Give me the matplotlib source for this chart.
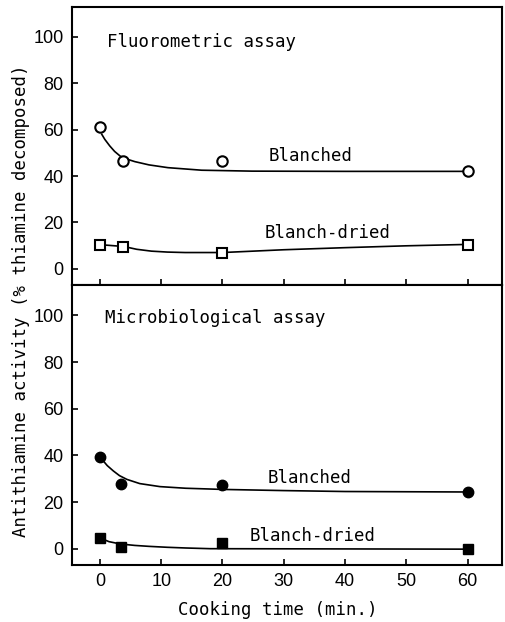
import matplotlib
matplotlib.use("Agg")
import matplotlib.pyplot as plt

plt.rcParams['font.family'] = ['Liberation Sans', 'DejaVu Sans']

# measured points
time_fl = [0, 3.8, 20, 60]
fl_blanched = [61, 46.5, 46.5, 42]
fl_dried = [10.4, 9.6, 6.7, 10.4]

time_mb = [0, 3.4, 20, 60]
mb_blanched = [39.5, 27.9, 27.3, 24.3]
mb_dried = [4.6, 0.7, 2.5, 0]

# hand-drawn fitted curves
fl_blanched_curve_x = [0.3, 0.8, 1.6, 2.4, 3.3, 4.5, 5.7, 8, 11.1, 16.6, 24.8, 40, 60]
fl_blanched_curve_y = [58, 55.8, 53, 50.6, 48.6, 47.2, 46.2, 44.8, 43.6, 42.5, 42.1, 42, 42]
fl_dried_curve_x = [0, 3.9, 6, 8.4, 11, 13.9, 20, 30, 40, 50, 60]
fl_dried_curve_y = [10.4, 9.6, 8.4, 7.6, 7.2, 7.0, 7.0, 8.2, 9.1, 9.9, 10.5]

mb_blanched_curve_x = [0.3, 1.2, 2.2, 3.2, 4.4, 6.5, 9.8, 14, 20, 30, 40, 60]
mb_blanched_curve_y = [38.4, 35.6, 33.3, 31.3, 29.7, 27.9, 26.6, 25.9, 25.4, 24.9, 24.5, 24.3]
mb_dried_curve_x = [0, 1.5, 3.4, 5.7, 8, 11, 14, 18, 40, 60]
mb_dried_curve_y = [4.6, 3.0, 2.0, 1.4, 1.0, 0.6, 0.3, 0.0, -0.1, -0.2]

xticks = [0, 10, 20, 30, 40, 50, 60]
yticks = [0, 20, 40, 60, 80, 100]

fig = plt.figure(figsize=(5.05, 6.22), dpi=100)
ax1 = fig.add_axes([0.142, 0.5418, 0.852, 0.4474])
ax2 = fig.add_axes([0.142, 0.0916, 0.852, 0.4502])

fs = 13
tfs = 12.5
mono = 'DejaVu Sans Mono'
for ax in (ax1, ax2):
    ax.set_xlim(-4.6, 65.6)
    ax.set_ylim(-7, 113)
    ax.set_xticks(xticks)
    ax.set_yticks(yticks)
    ax.tick_params(direction='in', length=4, width=1.2, labelsize=fs,
                   colors='black', pad=6)
    for s in ax.spines.values():
        s.set_linewidth(1.5)

ax1.tick_params(labelbottom=False)
fig.text(0.55, 0.0193, 'Cooking time (min.)', ha='center', va='center',
         fontsize=tfs, family=mono)
fig.text(0.042, 0.516, 'Antithiamine activity (% thiamine decomposed)',
         rotation=90, ha='center', va='center', fontsize=tfs, family=mono)

lw = 1.2
ms = 7.5
# top panel
ax1.plot(fl_blanched_curve_x, fl_blanched_curve_y, color='black', lw=lw)
ax1.plot(fl_dried_curve_x, fl_dried_curve_y, color='black', lw=lw)
ax1.plot(time_fl, fl_blanched, 'o', ms=ms, mfc='white', mec='black',
         mew=1.5, zorder=3)
ax1.plot(time_fl, fl_dried, 's', ms=ms, mfc='white', mec='black',
         mew=1.5, zorder=3)
ax1.text(1.1, 98, 'Fluorometric assay', fontsize=tfs, family=mono,
         va='center')
ax1.text(27.6, 48.5, 'Blanched', fontsize=tfs, family=mono, va='center')
ax1.text(26.9, 15.4, 'Blanch-dried', fontsize=tfs, family=mono,
         va='center')

# bottom panel
ax2.plot(mb_blanched_curve_x, mb_blanched_curve_y, color='black', lw=lw)
ax2.plot(mb_dried_curve_x, mb_dried_curve_y, color='black', lw=lw)
ax2.plot(time_mb, mb_blanched, 'o', ms=ms, mfc='black', mec='black',
         zorder=3)
ax2.plot(time_mb, mb_dried, 's', ms=ms, mfc='black', mec='black',
         zorder=3)
ax2.text(0.8, 99, 'Microbiological assay', fontsize=tfs, family=mono,
         va='center')
ax2.text(27.4, 30.5, 'Blanched', fontsize=tfs, family=mono, va='center')
ax2.text(24.5, 5.6, 'Blanch-dried', fontsize=tfs, family=mono,
         va='center')

fig.savefig('out.png', dpi=100)
